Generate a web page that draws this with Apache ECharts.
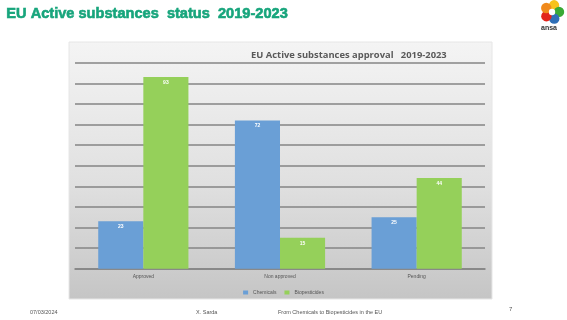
<!DOCTYPE html>
<html>
<head>
<meta charset="utf-8">
<script src="https://cdn.jsdelivr.net/npm/echarts@6/dist/echarts.min.js"></script>
<style>
  html, body { margin: 0; padding: 0; background: #ffffff; }
  #chart { width: 567px; height: 320px; }
</style>
</head>
<body>
<div id="chart"></div>
<script>
// Approval status of EU active substances, 2019-2023
const categories = ['Approved', 'Non approved', 'Pending'];
const chemicals = [23, 72, 25];
const biopesticides = [93, 15, 44];
const seriesNames = ['Chemicals', 'Biopesticides'];

const chart = echarts.init(document.getElementById('chart'), null, { renderer: 'canvas' });

const barLabel = {
  show: true,
  position: 'insideTop',
  distance: 3,
  color: '#ffffff',
  fontSize: 5,
  fontWeight: 'bold',
  fontFamily: 'Liberation Sans'
};

// Small multicoloured logo in the top-right corner
const petalColors = ['#f7c21b', '#3aa935', '#2f6fb7', '#e2241b', '#f08a1c'];
const logoPetals = petalColors.map((c, i) => {
  const a = -Math.PI / 2 + i * 2 * Math.PI / 5 + 0.3;
  return {
    type: 'circle',
    shape: { cx: 552 + Math.cos(a) * 7, cy: 12 + Math.sin(a) * 7, r: 5.2 },
    style: { fill: c }
  };
});

const footerFont = '5.5px "Liberation Sans", Arial, sans-serif';

chart.setOption({
  animation: false,
  graphic: [
    {
      type: 'rect',
      z: -10,
      shape: { x: 69, y: 42, width: 423, height: 257 },
      style: {
        fill: new echarts.graphic.LinearGradient(0, 0, 0, 1, [
          { offset: 0, color: '#f4f4f4' },
          { offset: 0.55, color: '#e0e0e0' },
          { offset: 1, color: '#c5c5c5' }
        ]),
        stroke: '#e6e6e6', lineWidth: 1
      }
    },
    {
      type: 'text', left: 6, top: 6,
      style: {
        text: 'EU Active substances  status  2019-2023',
        fill: '#17a57c', stroke: '#17a57c', lineWidth: 0.6,
        font: 'bold 14.6px "Liberation Sans", Arial, sans-serif'
      }
    },
    ...logoPetals,
    { type: 'circle', shape: { cx: 552, cy: 12, r: 3.2 }, style: { fill: '#ffffff' } },
    {
      type: 'text', left: 541, top: 25,
      style: { text: 'ansa', fill: '#333333', font: 'bold 7px "Liberation Sans", Arial, sans-serif' }
    },
    {
      type: 'text', left: 30, top: 309,
      style: { text: '07/03/2024', fill: '#555555', font: footerFont }
    },
    {
      type: 'text', left: 196, top: 309,
      style: { text: 'X. Sarda', fill: '#555555', font: footerFont }
    },
    {
      type: 'text', left: 278, top: 309,
      style: { text: 'From Chemicals to Biopesticides in the EU', fill: '#555555', font: footerFont }
    },
    {
      type: 'text', left: 509, top: 306,
      style: { text: '7', fill: '#555555', font: '6px "Liberation Sans", Arial, sans-serif' }
    }
  ],
  title: {
    text: 'EU Active substances approval   2019-2023',
    left: 246, top: 46,
    textStyle: { fontSize: 9.4, fontWeight: 'bold', color: '#595959', fontFamily: 'Open Sans' }
  },
  legend: {
    data: seriesNames,
    left: 'center', top: 285,
    icon: 'rect', itemWidth: 5, itemHeight: 4, itemGap: 8,
    textStyle: { fontSize: 5, color: '#555555', fontFamily: 'Liberation Sans' }
  },
  grid: { left: 75, right: 82, top: 62.7, bottom: 51.3 },
  xAxis: {
    type: 'category',
    data: categories,
    axisTick: { show: false },
    axisLine: { lineStyle: { color: '#858585', width: 1.6 } },
    axisLabel: { fontSize: 5, color: '#555555', margin: 5, fontFamily: 'Liberation Sans' }
  },
  yAxis: {
    type: 'value', min: 0, max: 100, interval: 10,
    axisLabel: { show: false },
    axisLine: { show: false },
    axisTick: { show: false },
    splitLine: { lineStyle: { color: '#858585', width: 1.6 } }
  },
  series: [
    {
      name: seriesNames[0], type: 'bar', data: chemicals,
      barGap: '0%', barCategoryGap: '34%',
      itemStyle: { color: '#6a9fd6' }, label: barLabel
    },
    {
      name: seriesNames[1], type: 'bar', data: biopesticides,
      itemStyle: { color: '#95d05a' }, label: barLabel
    }
  ]
});
</script>
</body>
</html>
